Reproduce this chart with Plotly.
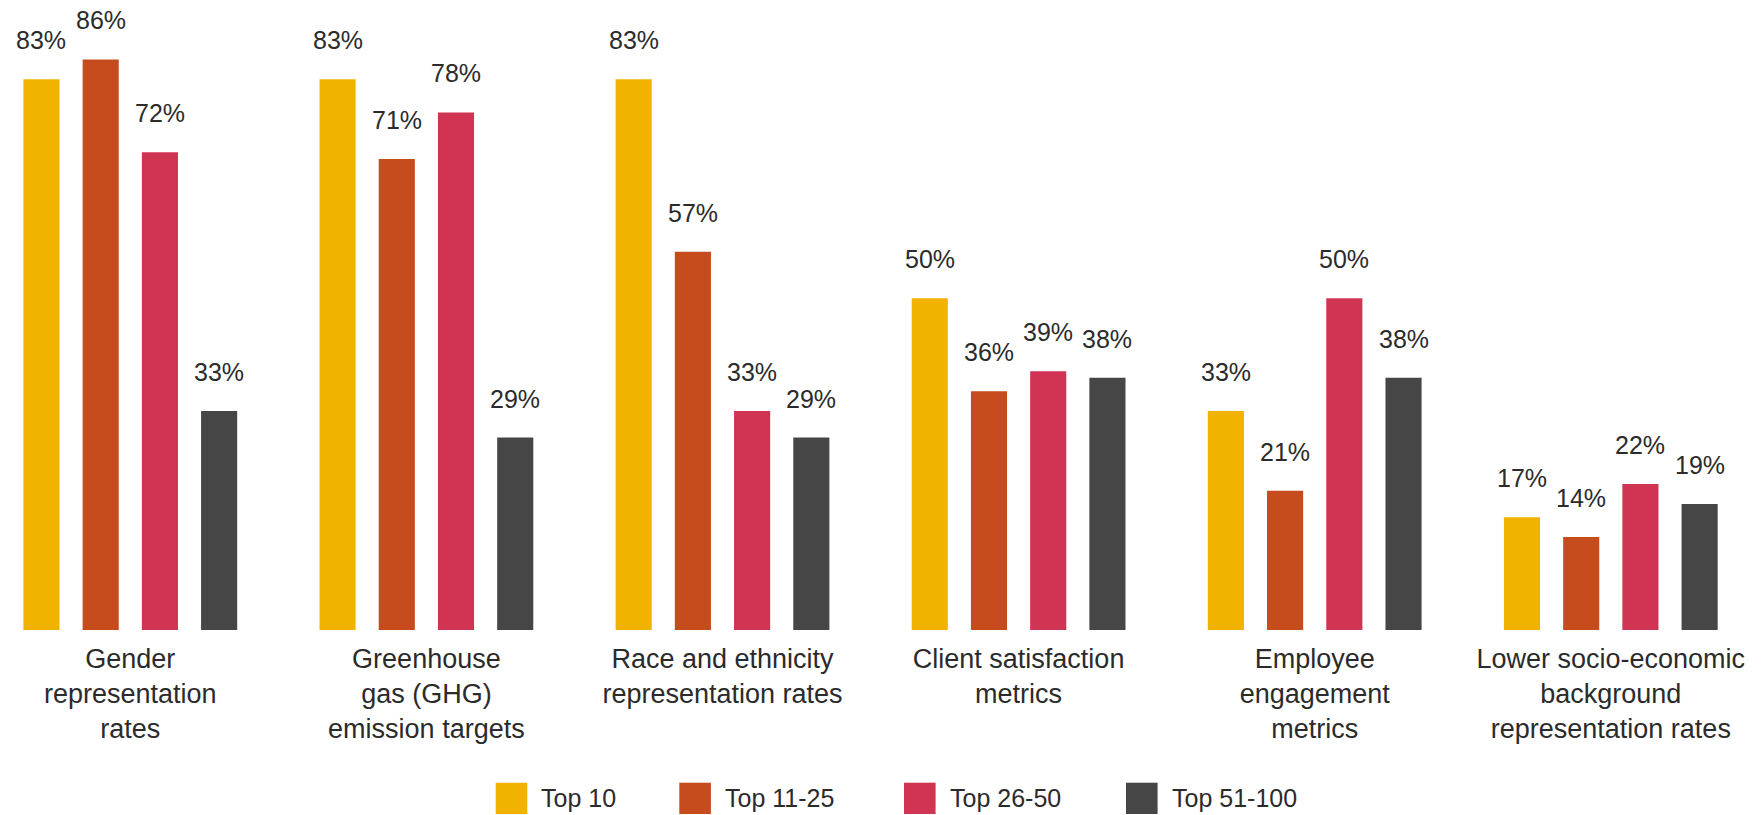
import plotly.graph_objects as go

# Share of firms (%) by metric type and ranking band
categories = [
    "Gender<br>representation<br>rates",
    "Greenhouse<br>gas (GHG)<br>emission targets",
    "Race and ethnicity<br>representation rates",
    "Client satisfaction<br>metrics",
    "Employee<br>engagement<br>metrics",
    "Lower socio-economic<br>background<br>representation rates",
]
series_names = ["Top 10", "Top 11-25", "Top 26-50", "Top 51-100"]
top_10 = [83, 83, 83, 50, 33, 17]
top_11_25 = [86, 71, 57, 36, 21, 14]
top_26_50 = [72, 78, 33, 39, 50, 22]
top_51_100 = [33, 29, 29, 38, 38, 19]
series_values = [top_10, top_11_25, top_26_50, top_51_100]
colors = ["#F2B300", "#C64B1D", "#D13453", "#464646"]

FONT = "Liberation Sans, Arial, Helvetica, sans-serif"
TEXT_COLOR = "#2b2b2b"
BARGAP = 0.2
BARGROUPGAP = 0.39
W, H = 1762, 815
MARGIN_B = 185
PLOT_H = H - MARGIN_B

fig = go.Figure()
for name, vals, col in zip(series_names, series_values, colors):
    fig.add_trace(go.Bar(
        name=name,
        x=list(range(len(categories))),
        y=vals,
        marker=dict(color=col, line=dict(width=0)),
        showlegend=False,
        hovertemplate=name + ": %{y}%<extra></extra>",
    ))

# value labels above each bar
n = len(series_names)
slot = (1 - BARGAP) / n
annotations = []
for j, vals in enumerate(series_values):
    for i, v in enumerate(vals):
        annotations.append(dict(
            x=i + (j - (n - 1) / 2) * slot, y=v, xref="x", yref="y",
            text=f"{v}%", showarrow=False, yanchor="bottom", xanchor="center",
            yshift=23, font=dict(family=FONT, size=25, color=TEXT_COLOR),
        ))

# legend row drawn beneath the category labels
legend_left_px = [495.7, 679.3, 904.0, 1126.0]
sw_w, sw_top, sw_bot = 31.6, 782.7, 814.0
shapes = []
for name, col, lx in zip(series_names, colors, legend_left_px):
    shapes.append(dict(
        type="rect", xref="paper", yref="paper",
        x0=lx / W, x1=(lx + sw_w) / W,
        y0=(PLOT_H - sw_bot) / PLOT_H, y1=(PLOT_H - sw_top) / PLOT_H,
        fillcolor=col, line=dict(width=0),
    ))
    annotations.append(dict(
        x=(lx + sw_w + 12) / W, y=(PLOT_H - 797.5) / PLOT_H,
        xref="paper", yref="paper", text=name, showarrow=False,
        xanchor="left", yanchor="middle",
        font=dict(family=FONT, size=25, color=TEXT_COLOR),
    ))

px_per_cat = 296.1
first_center = 130.3
fig.update_layout(
    width=W, height=H,
    margin=dict(l=0, r=0, t=0, b=MARGIN_B, pad=0),
    paper_bgcolor="white", plot_bgcolor="white",
    barmode="group", bargap=BARGAP, bargroupgap=BARGROUPGAP,
    font=dict(family=FONT, color=TEXT_COLOR),
    xaxis=dict(
        tickmode="array", tickvals=list(range(len(categories))), ticktext=categories,
        range=[-first_center / px_per_cat, (W - first_center) / px_per_cat],
        showgrid=False, zeroline=False, showline=False, ticks="",
        tickfont=dict(family=FONT, size=27, color=TEXT_COLOR),
        ticklabelstandoff=10,
    ),
    yaxis=dict(range=[0, PLOT_H / 6.635], visible=False, showgrid=False, zeroline=False),
    annotations=annotations,
    shapes=shapes,
)

fig.write_html("out.html")
